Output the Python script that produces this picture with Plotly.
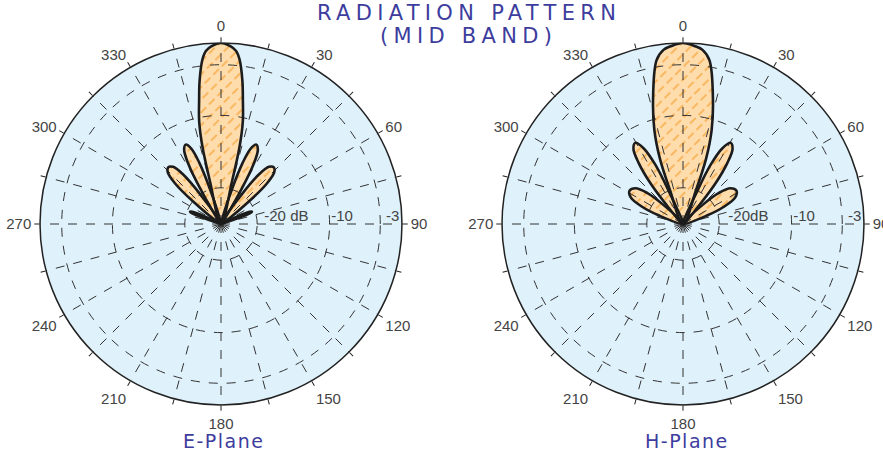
import plotly.graph_objects as go

# ---------------- data (angle in degrees, level in dB) ----------------
E_MAIN_THETA = [-15.5, -14.5, -13.5, -12, -10, -8.5, -6.5, -5, -3, 0, 3, 5, 6.5, 8.5, 10, 12, 13.5, 14.5, 15.5]
E_MAIN_DB = [-25, -19, -14, -10.5, -7.6, -5, -2.2, -1.0, -0.4, 0, -0.4, -1.0, -2.2, -5, -7.6, -10.5, -14, -19, -25]
E_SIDE_THETA = [
    [16, 17.5, 19.5, 21.5, 24, 26.5, 28.5, 30.5, 32],
    [33, 35, 37.5, 40, 43, 46, 48.5, 51, 53.5],
    [63, 65, 67, 68.5, 70, 72],
]
E_SIDE_DB = [
    [-25, -20, -16, -13.8, -13, -13.6, -15.5, -19.5, -25],
    [-25, -20, -16.3, -14.7, -14.3, -14.8, -16.5, -20, -25],
    [-25, -22.5, -20.7, -20.4, -21, -25],
]

H_MAIN_THETA = [-22, -21, -19.5, -17, -13.6, -9.2, -6.4, -4, 0, 4, 6.4, 9.2, 13.6, 17, 19.5, 21, 22]
H_MAIN_DB = [-25, -20, -15.5, -11.5, -7.4, -2.1, -0.8, -0.4, 0, -0.4, -0.8, -2.1, -7.4, -11.5, -15.5, -20, -25]
H_SIDE_THETA = [
    [22.5, 23.5, 25, 27.5, 30.5, 33.5, 36, 38.5, 40.5, 42.5],
    [44, 46, 49, 53, 58, 63, 67, 70.5, 74],
]
H_SIDE_DB = [
    [-25, -20, -16, -13.2, -12, -12.6, -14.6, -17.6, -21, -25],
    [-25, -21, -18.5, -16.8, -16.3, -16.9, -18.8, -21.5, -25],
]

RADIAL_RANGE = [-25, 0]
RADIAL_TICKS = [-20, -10, -3]
E_RADIAL_TEXT = ["-20 dB", "-10", "-3"]
H_RADIAL_TEXT = ["-20dB", "-10", "-3"]
ANGLE_TICKS = list(range(0, 360, 15))
ANGLE_TEXT = [str(a) if a % 30 == 0 else "" for a in ANGLE_TICKS]

TITLE_1 = "RADIATION PATTERN"
TITLE_2 = "(MID BAND)"
E_LABEL = "E-Plane"
H_LABEL = "H-Plane"

# ---------------- styling ----------------
BG = "#dff1fb"
FILL = "#ffdcab"
HATCH = "#f7a43a"
OUTLINE = "#1c1c1c"
GRID = "#333333"
TXT = "#444444"
BLUE = "#3d3d9e"
FONT = "Liberation Sans"
TFONT = "DejaVu Sans"
W, H = 883, 451


def px_x(x):
    return x / W


def px_y(y):
    return 1 - y / H


def build(main_t, main_db, side_t, side_db):
    th, rr = list(main_t), list(main_db)
    for t, d in zip(side_t, side_db):
        th += [None] + list(t)
        rr += [None] + list(d)
        th += [None] + [-x for x in reversed(t)]
        rr += [None] + list(reversed(d))
    return th, rr


def fill_trace(th, rr, sub):
    return go.Scatterpolar(r=rr, theta=th, subplot=sub, mode="lines", fill="toself",
                           fillcolor=FILL, line=dict(width=0, shape="spline", smoothing=1.0),
                           hoverinfo="skip", connectgaps=False)


def outline_trace(th, rr, sub):
    return go.Scatterpolar(r=rr, theta=th, subplot=sub, mode="lines",
                           line=dict(color=OUTLINE, width=2.6, shape="spline", smoothing=1.0),
                           hoverinfo="skip", connectgaps=False)


fig = go.Figure()
eth, er = build(E_MAIN_THETA, E_MAIN_DB, E_SIDE_THETA, E_SIDE_DB)
hth, hr = build(H_MAIN_THETA, H_MAIN_DB, H_SIDE_THETA, H_SIDE_DB)

fig.add_trace(fill_trace(eth, er, "polar"))
fig.add_trace(fill_trace(hth, hr, "polar2"))
for sub in ("polar3", "polar4"):
    fig.add_trace(go.Scatterpolar(r=[RADIAL_RANGE[0]], theta=[0], subplot=sub, mode="markers",
                                  marker=dict(size=1, opacity=0), hoverinfo="skip"))
fig.add_trace(outline_trace(eth, er, "polar3"))
fig.add_trace(outline_trace(hth, hr, "polar4"))

LX = [px_x(40), px_x(402)]
RX = [px_x(502), px_x(864)]
Y = [px_y(405), px_y(43)]


def base_polar(xd):
    return dict(
        domain=dict(x=xd, y=Y), bgcolor=BG,
        angularaxis=dict(rotation=90, direction="clockwise", showgrid=False, showline=False,
                         ticks="", showticklabels=False, tickvals=ANGLE_TICKS),
        radialaxis=dict(range=RADIAL_RANGE, autorange=False, showgrid=False, showline=False,
                        ticks="", showticklabels=False),
    )


def grid_polar(xd, rtext):
    pad = ["\u00a0" * 14, "\u00a0" * 6, "\u00a0" * 6]
    return dict(
        domain=dict(x=xd, y=Y), bgcolor="rgba(0,0,0,0)",
        angularaxis=dict(rotation=90, direction="clockwise", tickmode="array",
                         tickvals=ANGLE_TICKS, ticktext=ANGLE_TEXT,
                         showgrid=True, gridcolor=GRID, gridwidth=1, griddash="dash",
                         showline=True, linecolor="#222222", linewidth=1.5,
                         ticks="outside", ticklen=5, tickcolor="#222222", tickwidth=1,
                         tickfont=dict(family=FONT, size=15, color=TXT)),
        radialaxis=dict(range=RADIAL_RANGE, autorange=False, angle=0, side="counterclockwise",
                        tickangle=0, tickmode="array", tickvals=RADIAL_TICKS,
                        ticktext=[p + t for p, t in zip(pad, rtext)],
                        showgrid=True, gridcolor=GRID, gridwidth=1, griddash="dash",
                        showline=False, ticks="",
                        tickfont=dict(family=FONT, size=15, color=TXT)),
    )


def ann(text, x, y, size, spacing):
    return dict(text='<span style="letter-spacing:%spx">%s</span>' % (spacing, text),
                x=px_x(x), y=px_y(y), xref="paper", yref="paper",
                xanchor="center", yanchor="middle", showarrow=False,
                font=dict(family=TFONT, size=size, color=BLUE))


fig.update_layout(
    width=W, height=H, margin=dict(l=0, r=0, t=0, b=0),
    paper_bgcolor="white", showlegend=False,
    polar=base_polar(LX), polar2=base_polar(RX),
    polar3=grid_polar(LX, E_RADIAL_TEXT), polar4=grid_polar(RX, H_RADIAL_TEXT),
    annotations=[
        ann(TITLE_1, 469, 13, 21, 5.3),
        ann(TITLE_2, 469, 36, 21, 5.3),
        ann(E_LABEL, 223, 441, 19, 1.5),
        ann(H_LABEL, 687, 441, 19, 1.5),
    ],
)

POST = """
(function(){
  document.documentElement.style.margin = '0';
  document.body.style.margin = '0';
  document.body.style.padding = '0';
  var gd = document.getElementById('{plot_id}');
  if (!gd) return;
  var svg = gd.querySelector('svg.main-svg');
  if (!svg) return;
  var ns = 'http://www.w3.org/2000/svg';
  var defs = svg.querySelector('defs');
  if (!defs) { defs = document.createElementNS(ns, 'defs'); svg.insertBefore(defs, svg.firstChild); }
  var p = document.createElementNS(ns, 'pattern');
  p.setAttribute('id', 'lobehatch');
  p.setAttribute('patternUnits', 'userSpaceOnUse');
  p.setAttribute('width', '9');
  p.setAttribute('height', '12');
  p.setAttribute('patternTransform', 'rotate(45)');
  var r = document.createElementNS(ns, 'rect');
  r.setAttribute('width', '9'); r.setAttribute('height', '12'); r.setAttribute('fill', '%FILL%');
  var l = document.createElementNS(ns, 'line');
  l.setAttribute('x1', '1'); l.setAttribute('y1', '0'); l.setAttribute('x2', '1'); l.setAttribute('y2', '8');
  l.setAttribute('stroke', '%HATCH%'); l.setAttribute('stroke-width', '1.3');
  p.appendChild(r); p.appendChild(l); defs.appendChild(p);
  gd.querySelectorAll('.js-fill').forEach(function(f){ f.style.fill = 'url(#lobehatch)'; });
})();
""".replace("%FILL%", FILL).replace("%HATCH%", HATCH)

fig.write_html("out.html", post_script=POST, config={"displayModeBar": False})
